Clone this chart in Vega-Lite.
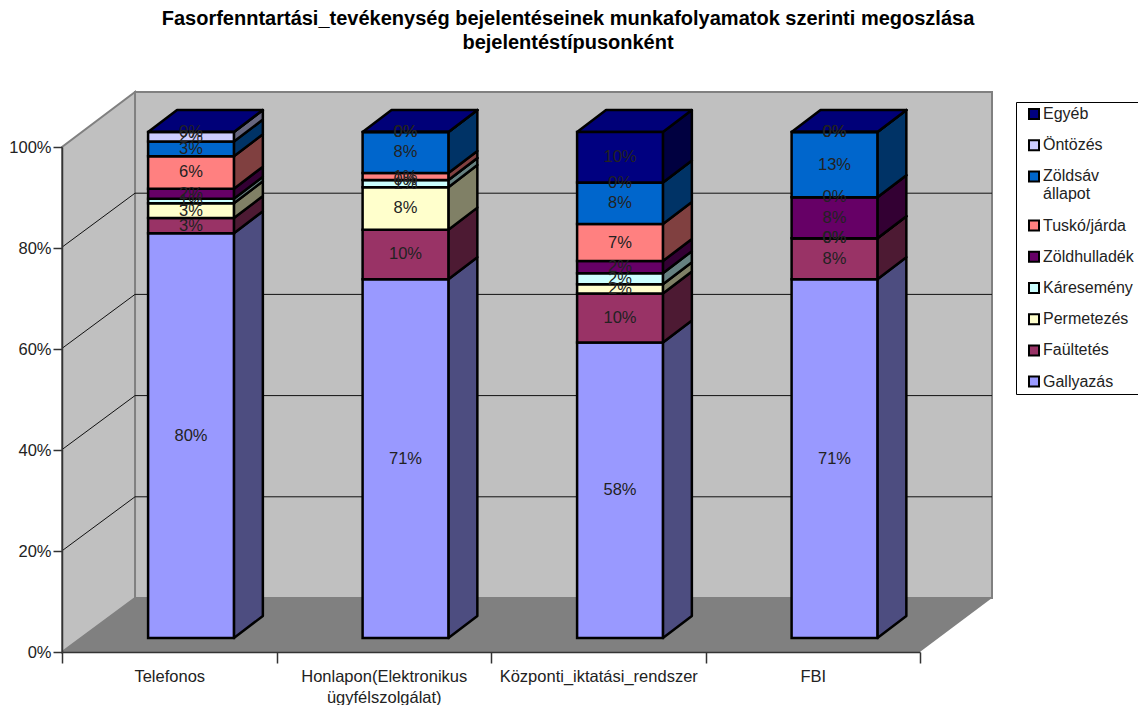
{
"$schema":"https://vega.github.io/schema/vega-lite/v6.json",
"width":930,"height":560,
"autosize":{"type":"none"},
"padding":{"left":62,"top":92,"right":146,"bottom":53},
"background":"white",
"title":{"text":["Fasorfenntartási_tevékenység bejelentéseinek munkafolyamatok szerinti megoszlása","bejelentéstípusonként"],"font":"Liberation Sans","fontSize":20,"fontWeight":"bold","color":"#000","anchor":"middle","frame":"group","dx":41,"offset":35,"lineHeight":24},
"config":{"view":{"stroke":null},"text":{"font":"Liberation Sans"}},
"datasets":{
"bars":[
{"cat":"Telefonos","series":"Gallyazás","v":80},{"cat":"Telefonos","series":"Faültetés","v":3},{"cat":"Telefonos","series":"Permetezés","v":2.9},{"cat":"Telefonos","series":"Káresemény","v":0.9},{"cat":"Telefonos","series":"Zöldhulladék","v":2},{"cat":"Telefonos","series":"Tuskó/járda","v":6.4},{"cat":"Telefonos","series":"Zöldsáv állapot","v":2.9},{"cat":"Telefonos","series":"Öntözés","v":1.9},{"cat":"Telefonos","series":"Egyéb","v":0},
{"cat":"Honlapon","series":"Gallyazás","v":70.9},{"cat":"Honlapon","series":"Faültetés","v":9.8},{"cat":"Honlapon","series":"Permetezés","v":8.4},{"cat":"Honlapon","series":"Káresemény","v":1.4},{"cat":"Honlapon","series":"Zöldhulladék","v":0},{"cat":"Honlapon","series":"Tuskó/járda","v":1.4},{"cat":"Honlapon","series":"Zöldsáv állapot","v":8.1},{"cat":"Honlapon","series":"Öntözés","v":0},{"cat":"Honlapon","series":"Egyéb","v":0},
{"cat":"Központi","series":"Gallyazás","v":58.4},{"cat":"Központi","series":"Faültetés","v":9.7},{"cat":"Központi","series":"Permetezés","v":1.8},{"cat":"Központi","series":"Káresemény","v":2.2},{"cat":"Központi","series":"Zöldhulladék","v":2.4},{"cat":"Központi","series":"Tuskó/járda","v":7.3},{"cat":"Központi","series":"Zöldsáv állapot","v":8.2},{"cat":"Központi","series":"Öntözés","v":0},{"cat":"Központi","series":"Egyéb","v":10},
{"cat":"FBI","series":"Gallyazás","v":70.9},{"cat":"FBI","series":"Faültetés","v":8.1},{"cat":"FBI","series":"Permetezés","v":0},{"cat":"FBI","series":"Káresemény","v":0},{"cat":"FBI","series":"Zöldhulladék","v":8.1},{"cat":"FBI","series":"Tuskó/járda","v":0},{"cat":"FBI","series":"Zöldsáv állapot","v":12.9},{"cat":"FBI","series":"Öntözés","v":0},{"cat":"FBI","series":"Egyéb","v":0}
],
"pct":[{"p":0},{"p":20},{"p":40},{"p":60},{"p":80},{"p":100}]
},
"resolve":{"scale":{"x":"independent","y":"independent","color":"independent"}},
"layer":[
{"data":{"values":[{"x":-0.261,"x2":3.7343,"y":7.9,"y2":107.9}]},
 "mark":{"type":"rect","fill":"#c0c0c0","stroke":"#808080","strokeWidth":2},
 "encoding":{"x":{"field":"x","type":"quantitative","axis":null,"scale":{"domain":[-0.6014,3.7343],"nice":false,"zero":false}},"x2":{"field":"x2"},
 "y":{"field":"y","type":"quantitative","axis":null,"scale":{"domain":[-2.77,107.9],"nice":false,"zero":false}},"y2":{"field":"y2"}}},
{"data":{"values":[{"x":-0.6014,"y":-2.77,"y2":97.04},{"x":-0.261,"y":7.9,"y2":107.9}]},
 "mark":{"type":"area","fill":"#c0c0c0","stroke":"#808080","strokeWidth":2,"opacity":1},
 "encoding":{"x":{"field":"x","type":"quantitative","axis":null,"scale":{"domain":[-0.6014,3.7343],"nice":false,"zero":false}},
 "y":{"field":"y","type":"quantitative","axis":null,"scale":{"domain":[-2.77,107.9],"nice":false,"zero":false}},"y2":{"field":"y2"}}},
{"data":{"values":[{"y":-2.77,"x":-0.6014,"x2":3.398},{"y":7.9,"x":-0.261,"x2":3.7343}]},
 "mark":{"type":"area","orient":"horizontal","fill":"#808080"},
 "encoding":{"y":{"field":"y","type":"quantitative","axis":null,"scale":{"domain":[-2.77,107.9],"nice":false,"zero":false}},
 "x":{"field":"x","type":"quantitative","axis":null,"scale":{"domain":[-0.6014,3.7343],"nice":false,"zero":false}},"x2":{"field":"x2"}}},
{"data":{"name":"pct"},
 "transform":[{"filter":"datum.p>0 && datum.p<100"},{"calculate":"7.9+datum.p","as":"yb"},{"calculate":"-2.77+datum.p","as":"yf"},{"calculate":"-0.261","as":"xb"},{"calculate":"3.7343","as":"xr"}],
 "mark":{"type":"rule","color":"#111","strokeWidth":1},
 "encoding":{"x":{"field":"xb","type":"quantitative","axis":null,"scale":{"domain":[-0.6014,3.7343],"nice":false,"zero":false}},"x2":{"field":"xr"},
 "y":{"field":"yb","type":"quantitative","axis":null,"scale":{"domain":[-2.77,107.9],"nice":false,"zero":false}}}},
{"data":{"name":"pct"},
 "transform":[{"filter":"datum.p>0 && datum.p<100"},{"calculate":"7.9+datum.p","as":"yb"},{"calculate":"-2.77+datum.p","as":"yf"},{"calculate":"-0.261","as":"xb"},{"calculate":"-0.6014","as":"xf"}],
 "mark":{"type":"rule","color":"#111","strokeWidth":1},
 "encoding":{"x":{"field":"xf","type":"quantitative","axis":null,"scale":{"domain":[-0.6014,3.7343],"nice":false,"zero":false}},"x2":{"field":"xb"},
 "y":{"field":"yf","type":"quantitative","axis":null,"scale":{"domain":[-2.77,107.9],"nice":false,"zero":false}},"y2":{"field":"yb"}}},
{"data":{"name":"pct"},
 "transform":[{"calculate":"datum.p/100","as":"f"},{"calculate":"['Telefonos','Honlapon(Elektronikus|ügyfélszolgálat)','Központi_iktatási_rendszer','FBI'][min(3,floor(datum.p/20))]","as":"c"}],
 "mark":{"type":"rule","opacity":0},
 "encoding":{
 "x":{"field":"c","type":"nominal","sort":null,"scale":{"type":"band","domain":["Telefonos","Honlapon(Elektronikus|ügyfélszolgálat)","Központi_iktatási_rendszer","FBI"],"range":[0,858],"paddingInner":0,"paddingOuter":0},
  "axis":{"orient":"bottom","title":null,"tickBand":"extent","labelAngle":0,"labelAlign":"center","labelFont":"Liberation Sans","labelFontSize":16.5,"labelColor":"#222","labelPadding":5,"labelLimit":300,"labelExpr":"split(datum.label,'|')","tickSize":11,"tickColor":"#333","tickWidth":1.5,"domainColor":"#333","domainWidth":1.5,"grid":false,"zindex":1,"labelLineHeight":21}},
 "y":{"field":"f","type":"quantitative","scale":{"domain":[0,1],"range":[560,55],"nice":false,"zero":false},
  "axis":{"orient":"left","title":null,"values":[0,0.2,0.4,0.6,0.8,1],"format":".0%","labelFont":"Liberation Sans","labelFontSize":16.5,"labelColor":"#222","labelPadding":2,"tickSize":9,"tickColor":"#333","tickWidth":1.5,"domainColor":"#333","domainWidth":1.5,"grid":false,"zindex":1}}}},
{"data":{"name":"bars"},
 "transform":[{"calculate":"indexof(['Gallyazás','Faültetés','Permetezés','Káresemény','Zöldhulladék','Tuskó/járda','Zöldsáv állapot','Öntözés','Egyéb'],datum.series)","as":"k"},
 {"calculate":"indexof(['Telefonos','Honlapon','Központi','FBI'],datum.cat)","as":"i"},
 {"stack":"v","groupby":["cat"],"sort":[{"field":"k","order":"ascending"}],"as":["y0","y1"]},
 {"calculate":"[0,1]","as":"s"},{"flatten":["s"]},
 {"calculate":"datum.i+0.2+datum.s*0.135","as":"sx"},{"calculate":"datum.y0+datum.s*4.35","as":"sy0"},{"calculate":"datum.y1+datum.s*4.35","as":"sy1"}],
 "mark":{"type":"area","stroke":"#000","strokeWidth":2.5,"strokeJoin":"round"},
 "encoding":{"x":{"field":"sx","type":"quantitative","axis":null,"scale":{"domain":[-0.6014,3.7343],"nice":false,"zero":false}},
 "y":{"field":"sy0","type":"quantitative","axis":null,"scale":{"domain":[-2.77,107.9],"nice":false,"zero":false}},"y2":{"field":"sy1"},
 "detail":{"field":"cat"},
 "color":{"field":"series","type":"nominal","legend":null,"scale":{"domain":["Gallyazás","Faültetés","Permetezés","Káresemény","Zöldhulladék","Tuskó/járda","Zöldsáv állapot","Öntözés","Egyéb"],"range":["#4d4d80","#4d1a33","#808066","#668080","#330033","#804040","#003366","#666680","#000040"]}}}},
{"data":{"name":"bars"},
 "transform":[{"filter":"datum.series=='Egyéb'"},{"calculate":"indexof(['Telefonos','Honlapon','Központi','FBI'],datum.cat)","as":"i"},
 {"calculate":"[0,1]","as":"s"},{"flatten":["s"]},
 {"calculate":"100+datum.s*4.35","as":"ty"},{"calculate":"datum.i-0.2+datum.s*0.135","as":"tx"},{"calculate":"datum.i+0.2+datum.s*0.135","as":"tx2"}],
 "mark":{"type":"area","orient":"horizontal","fill":"#000078","stroke":"#000","strokeWidth":2.5,"strokeJoin":"round"},
 "encoding":{"y":{"field":"ty","type":"quantitative","axis":null,"scale":{"domain":[-2.77,107.9],"nice":false,"zero":false}},
 "x":{"field":"tx","type":"quantitative","axis":null,"scale":{"domain":[-0.6014,3.7343],"nice":false,"zero":false}},"x2":{"field":"tx2"},"detail":{"field":"cat"}}},
{"data":{"name":"bars"},
 "transform":[{"calculate":"indexof(['Gallyazás','Faültetés','Permetezés','Káresemény','Zöldhulladék','Tuskó/járda','Zöldsáv állapot','Öntözés','Egyéb'],datum.series)","as":"k"},
 {"calculate":"indexof(['Telefonos','Honlapon','Központi','FBI'],datum.cat)","as":"i"},
 {"stack":"v","groupby":["cat"],"sort":[{"field":"k","order":"ascending"}],"as":["y0","y1"]},
 {"calculate":"datum.i-0.2","as":"fx"},{"calculate":"datum.i+0.2","as":"fx2"}],
 "mark":{"type":"rect","stroke":"#000","strokeWidth":2.5},
 "encoding":{"x":{"field":"fx","type":"quantitative","axis":null,"scale":{"domain":[-0.6014,3.7343],"nice":false,"zero":false}},"x2":{"field":"fx2"},
 "y":{"field":"y0","type":"quantitative","axis":null,"scale":{"domain":[-2.77,107.9],"nice":false,"zero":false}},"y2":{"field":"y1"},
 "color":{"field":"series","type":"nominal","scale":{"domain":["Egyéb","Öntözés","Zöldsáv állapot","Tuskó/járda","Zöldhulladék","Káresemény","Permetezés","Faültetés","Gallyazás"],"range":["#000080","#ccccff","#0066cc","#ff8080","#660066","#ccffff","#ffffcc","#993366","#9999ff"]},
 "legend":{"orient":"none","legendX":954,"legendY":10,"title":null,"symbolType":"square","symbolSize":100,"symbolStrokeColor":"#000","symbolStrokeWidth":2,"symbolOffset":6,"labelFont":"Liberation Sans","labelFontSize":16,"labelColor":"#222","labelLimit":120,"labelOffset":1,"rowPadding":15.2,"clipHeight":16,"fillColor":"#fff","strokeColor":"#000","padding":4,"labelExpr":"datum.label=='Zöldsáv állapot'?['Zöldsáv','állapot']:datum.label"}}}},
{"data":{"name":"bars"},
 "transform":[{"calculate":"indexof(['Gallyazás','Faültetés','Permetezés','Káresemény','Zöldhulladék','Tuskó/járda','Zöldsáv állapot','Öntözés','Egyéb'],datum.series)","as":"k"},
 {"calculate":"indexof(['Telefonos','Honlapon','Központi','FBI'],datum.cat)","as":"i"},
 {"stack":"v","groupby":["cat"],"sort":[{"field":"k","order":"ascending"}],"as":["y0","y1"]},
 {"calculate":"(datum.y0+datum.y1)/2","as":"ym"},{"calculate":"format(datum.v/100,'.0%')","as":"lab"}],
 "mark":{"type":"text","font":"Liberation Sans","fontSize":16.5,"color":"#222","baseline":"middle","align":"center"},
 "encoding":{"x":{"field":"i","type":"quantitative","axis":null,"scale":{"domain":[-0.6014,3.7343],"nice":false,"zero":false}},
 "y":{"field":"ym","type":"quantitative","axis":null,"scale":{"domain":[-2.77,107.9],"nice":false,"zero":false}},
 "text":{"field":"lab"}}}
]
}
